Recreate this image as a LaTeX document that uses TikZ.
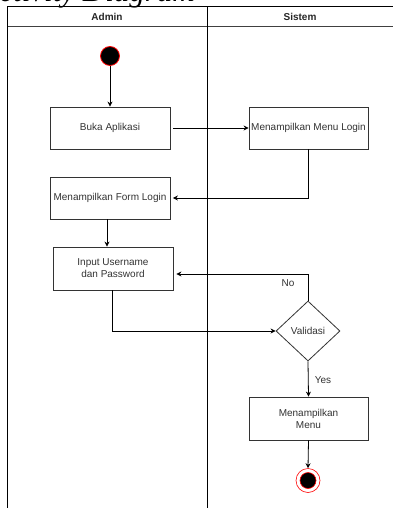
\documentclass[tikz,border=0pt]{standalone}
\usepackage{fontspec}
\setmainfont{Liberation Sans}
\newfontfamily\titlefont{Liberation Serif}
\usetikzlibrary{shapes.geometric,arrows.meta}
\begin{document}
\begin{tikzpicture}[x=1pt,y=-1pt,
  act/.style={draw=black!80, line width=0.8pt, minimum width=120pt, minimum height=42pt, inner sep=1pt, align=center, font=\fontsize{10}{12}\selectfont, text=black!80},
  flow/.style={-{Stealth[length=5pt,width=5pt]}, line width=0.8pt},
  lane/.style={line width=1pt},
  lbl/.style={font=\fontsize{10}{12}\selectfont, text=black!80},
  hdr/.style={font=\bfseries\fontsize{10}{12}\selectfont, text=black!85}]
\useasboundingbox (0,0) rectangle (393,508);
\clip (0,0) rectangle (393,508);
\fill[white] (0,0) rectangle (393,508);
% title (cut off)
\node[anchor=base east, inner sep=0pt, font=\titlefont\itshape\fontsize{31}{36}\selectfont] (title) at (195,2) {Activity Diagram};
% swimlanes
\draw[lane] (7,7) -- (393,7);
\draw[lane, draw=black!75] (7,27) -- (393,27);
\draw[lane] (7,7) -- (7,508);
\draw[lane] (207,7) -- (207,508);
\node[hdr] (admin) at (107,17) {Admin};
\node[hdr] (sistem) at (300,17) {Sistem};
% nodes
\node[circle, fill=black, draw=red, line width=0.8pt, minimum size=19pt, inner sep=0pt] (start) at (110,56) {};
\node[act] (buka) at (110,128) {Buka Aplikasi};
\node[act, minimum width=119pt] (menu) at (308.5,128) {Menampilkan Menu Login};
\node[act] (form) at (110,198) {Menampilkan Form Login};
\node[act, minimum height=43pt] (input) at (113,268.5) {Input Username\\dan Password};
\node[diamond, draw=black!80, line width=0.8pt, minimum width=64pt, minimum height=60pt, aspect=1.07, inner sep=0pt, font=\fontsize{10}{12}\selectfont, text=black!80] (valid) at (308,331) {Validasi};
\node[act, minimum width=119pt, minimum height=43pt] (tampil) at (308.5,418.5) {Menampilkan\\Menu};
\node[circle, fill=white, draw=red, line width=0.6pt, minimum size=24pt, inner sep=0pt] (endo) at (308,480.5) {};
\node[circle, fill=black, draw=red, line width=0.6pt, minimum size=16pt, inner sep=0pt] (endi) at (308,480.5) {};
% connectors
\draw[flow] (start) -- (buka);
\draw[flow, shorten <=3pt] (buka.east) -- (menu.west);
\draw[flow, shorten >=2.5pt] (menu.south) |- (form.east);
\draw[flow] ([xshift=-3pt]form.south) -- ([xshift=-3pt]form.south |- input.north);
\draw[flow, shorten >=3pt] (valid.north) |- ([yshift=-5.5pt]input.east);
\node[lbl] (no) at (288,283) {No};
\draw[flow] ([xshift=-1pt]input.south) |- (valid.west);
\draw[flow] (valid.south) -- (tampil.north);
\node[lbl] (yes) at (323,380) {Yes};
\draw[flow] (tampil.south) -- (endo.north);
\end{tikzpicture}
\end{document}
